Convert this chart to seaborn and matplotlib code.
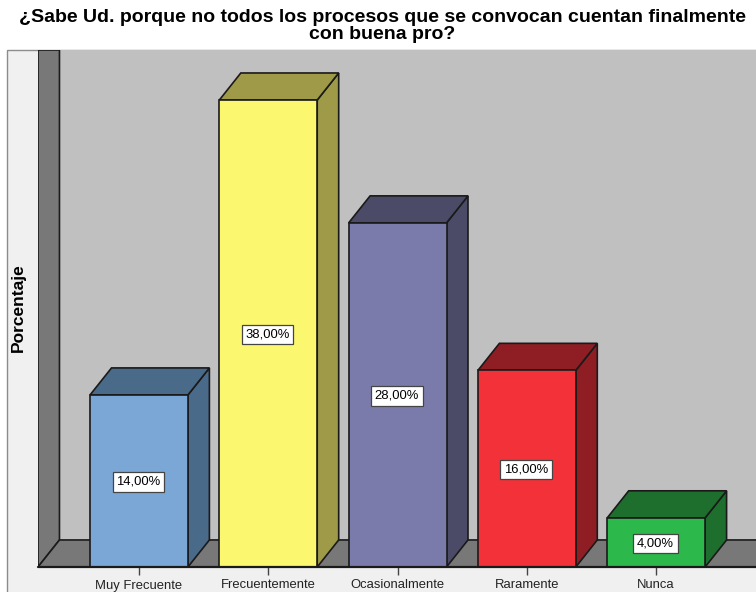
#!/usr/bin/env python
# -*- coding: utf-8 -*-

import pandas as pd
import matplotlib
matplotlib.use("Agg")
import matplotlib.pyplot as plt
from matplotlib.patches import Rectangle
import seaborn as sns

sns.set_theme(style="white")
plt.rcParams['font.family'] = ['Liberation Sans', 'DejaVu Sans']

categories = ["Muy Frecuente", "Frecuentemente", "Ocasionalmente", "Raramente", "Nunca"]
values = [14, 38, 28, 16, 4]
value_labels = ["14,00%", "38,00%", "28,00%", "16,00%", "4,00%"]
front_colors = ["#7BA7D6", "#FBF76E", "#7B7BAB", "#F23238", "#2DB84B"]
shade_colors = ["#4A6A8A", "#9E9A48", "#4B4B68", "#8F1E24", "#1E6F2E"]

W, H = 756, 592
EDGE = "#1a1a1a"
# 3d offset of the fake depth, in data units
DX, DY = 0.166, 2.2

df = pd.DataFrame({"cat": categories, "val": values})

fig = plt.figure(figsize=(W / 100, H / 100), dpi=100)
fig.patch.set_facecolor("white")

# light panel behind the plot
fig.add_artist(Rectangle((7 / W, -0.01), 760 / W, (592 - 50) / H + 0.01, transform=fig.transFigure,
                         facecolor="#F0F0F0", edgecolor="#8c8c8c", linewidth=1, zorder=-1))

ax = fig.add_axes([38 / W, (H - 567) / H, (W - 38) / W, (567 - 50) / H])
ax.set_facecolor("#C0C0C0")
for s in ax.spines.values():
    s.set_visible(False)

sns.barplot(data=df, x="cat", y="val", hue="cat", palette=front_colors, legend=False,
            width=0.757, edgecolor=EDGE, linewidth=1.2, saturation=1, ax=ax, zorder=5)

x0, x1 = -0.781, 4.772
y1 = 42.07
ax.set_xlim(x0, x1)
ax.set_ylim(0, y1)

# back wall and floor
ax.fill([x0, x0 + DX, x0 + DX, x0], [0, DY, y1, y1], facecolor="#787878", edgecolor=EDGE, linewidth=1.2, zorder=2)
ax.fill([x0, x0 + DX, x1 + 0.1, x1 + 0.1], [0, DY, DY, 0], facecolor="#787878", edgecolor=EDGE, linewidth=1.2, zorder=2)
ax.plot([x0, x1], [0, 0], color=EDGE, linewidth=1.6, zorder=6, clip_on=False)

# depth faces for each bar
for bar, shade, label in zip(ax.patches, shade_colors, value_labels):
    l = bar.get_x()
    r = l + bar.get_width()
    h = bar.get_height()
    ax.fill([r, r + DX, r + DX, r], [0, DY, h + DY, h], facecolor=shade, edgecolor=EDGE, linewidth=1.2, zorder=4)
    ax.fill([l, l + DX, r + DX, r], [h, h + DY, h + DY, h], facecolor=shade, edgecolor=EDGE, linewidth=1.2, zorder=4)
    ax.annotate(label, ((l + r) / 2, h / 2), xytext=(-0.5, -0.7), textcoords="offset points",
                ha="center", va="center", fontsize=9.4, color="black", zorder=7,
                bbox=dict(boxstyle="square,pad=0.28", facecolor="white", edgecolor="#444444", linewidth=0.9))

ax.set_xlabel("")
ax.set_ylabel("")
ax.set_yticks([])
ax.tick_params(axis="x", length=6, width=1, color="#444444", pad=3, labelsize=9.4, labelcolor="#222222",
               bottom=True)

fig.text(18 / W, 1 - 308 / H, "Porcentaje", rotation=90, ha="center", va="center",
         fontsize=12.5, fontweight="bold", color="black")
fig.text(382 / W, 1 - 26 / H, "¿Sabe Ud. porque no todos los procesos que se convocan cuentan finalmente\ncon buena pro?",
         ha="center", va="center", fontsize=14, fontweight="bold", color="black", linespacing=1.02)

fig.savefig("out.png", dpi=100)
